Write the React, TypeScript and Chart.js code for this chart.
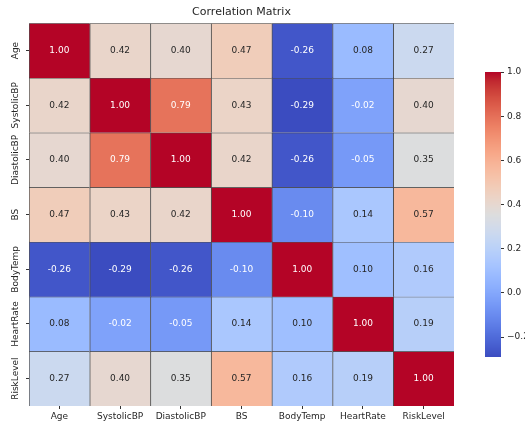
import React, { useEffect, useRef } from 'react';
import { Chart, registerables } from 'chart.js';

Chart.register(...registerables);

// Variables shown on both axes of the correlation matrix
const variables = ['Age', 'SystolicBP', 'DiastolicBP', 'BS', 'BodyTemp', 'HeartRate', 'RiskLevel'];

// Pairwise correlation coefficients, one row per variable
const ageRow = [1.0, 0.42, 0.4, 0.47, -0.26, 0.08, 0.27];
const systolicRow = [0.42, 1.0, 0.79, 0.43, -0.29, -0.02, 0.4];
const diastolicRow = [0.4, 0.79, 1.0, 0.42, -0.26, -0.05, 0.35];
const bsRow = [0.47, 0.43, 0.42, 1.0, -0.1, 0.14, 0.57];
const bodyTempRow = [-0.26, -0.29, -0.26, -0.1, 1.0, 0.1, 0.16];
const heartRateRow = [0.08, -0.02, -0.05, 0.14, 0.1, 1.0, 0.19];
const riskLevelRow = [0.27, 0.4, 0.35, 0.57, 0.16, 0.19, 1.0];

const corrRows = [ageRow, systolicRow, diastolicRow, bsRow, bodyTempRow, heartRateRow, riskLevelRow];

// Colour bar tick values
const colorbarTicks = [-0.2, 0.0, 0.2, 0.4, 0.6, 0.8, 1.0];

const TITLE = 'Correlation Matrix';
const FONT_FAMILY = "'DejaVu Sans', 'Liberation Sans', sans-serif";
const TEXT_COLOR = '#262626';

const allValues = corrRows.flat();
const vmin = Math.min(...allValues);
const vmax = Math.max(...allValues);

// Diverging cool-warm colour map (33 control points)
const COOLWARM: number[][] = [
  [59, 76, 192], [68, 90, 204], [77, 104, 215], [87, 117, 225], [98, 130, 234],
  [108, 142, 241], [119, 154, 247], [130, 165, 251], [141, 176, 254], [152, 185, 255],
  [163, 194, 255], [174, 201, 253], [184, 208, 249], [194, 213, 244], [204, 217, 238],
  [213, 219, 230], [221, 221, 221], [229, 216, 209], [236, 211, 197], [241, 204, 184],
  [245, 196, 172], [247, 187, 160], [247, 177, 148], [247, 166, 135], [244, 154, 123],
  [241, 141, 111], [236, 127, 99], [229, 112, 89], [222, 96, 77], [213, 80, 66],
  [203, 62, 56], [192, 40, 47], [180, 4, 38],
];

function coolwarmRGB(t: number): number[] {
  const c = Math.min(1, Math.max(0, t));
  const pos = c * (COOLWARM.length - 1);
  const i = Math.min(COOLWARM.length - 2, Math.floor(pos));
  const f = pos - i;
  const a = COOLWARM[i];
  const b = COOLWARM[i + 1];
  return [0, 1, 2].map((k) => a[k] + (b[k] - a[k]) * f);
}

function valueColor(v: number): string {
  const [r, g, b] = coolwarmRGB((v - vmin) / (vmax - vmin));
  return `rgb(${Math.round(r)}, ${Math.round(g)}, ${Math.round(b)})`;
}

// Light text on dark cells, dark text on light cells
function annotColor(v: number): string {
  const rgb = coolwarmRGB((v - vmin) / (vmax - vmin)).map((c) => {
    const s = c / 255;
    return s <= 0.03928 ? s / 12.92 : Math.pow((s + 0.055) / 1.055, 2.4);
  });
  const lum = 0.2126 * rgb[0] + 0.7152 * rgb[1] + 0.0722 * rgb[2];
  return lum > 0.408 ? TEXT_COLOR : '#ffffff';
}

// Rotated row labels next to the y-axis tick marks
const rowLabelPlugin = {
  id: 'rowLabels',
  afterDraw(chart: any) {
    const ys = chart.scales.y;
    const ctx = chart.ctx;
    ctx.save();
    ctx.font = `9px ${FONT_FAMILY}`;
    ctx.fillStyle = TEXT_COLOR;
    ctx.textAlign = 'center';
    ctx.textBaseline = 'middle';
    ys.ticks.forEach((_t: any, i: number) => {
      const py = ys.getPixelForTick(i);
      ctx.save();
      ctx.translate(ys.right - 13, py);
      ctx.rotate(-Math.PI / 2);
      ctx.fillText(variables[i], 0, 0);
      ctx.restore();
    });
    ctx.restore();
  },
};

// Coefficient written in the middle of each cell
const cellTextPlugin = {
  id: 'cellText',
  afterDatasetsDraw(chart: any) {
    const ctx = chart.ctx;
    ctx.save();
    ctx.font = `9px ${FONT_FAMILY}`;
    ctx.textAlign = 'center';
    ctx.textBaseline = 'middle';
    corrRows.forEach((row, i) => {
      const meta = chart.getDatasetMeta(i);
      meta.data.forEach((bar: any, j: number) => {
        const { x, y } = bar.getCenterPoint();
        ctx.fillStyle = annotColor(row[j]);
        ctx.fillText(row[j].toFixed(2), x, y);
      });
    });
    ctx.restore();
  },
};

// Continuous gradient filling the colour bar, sampled through its value scale
const gradientPlugin = {
  id: 'colorbarGradient',
  beforeDatasetsDraw(chart: any) {
    const { ctx, chartArea } = chart;
    const ys = chart.scales.y;
    ctx.save();
    for (let py = Math.floor(chartArea.top); py < chartArea.bottom; py++) {
      const v = ys.getValueForPixel(py + 0.5);
      ctx.fillStyle = valueColor(v);
      const top = Math.max(py, chartArea.top);
      const bottom = Math.min(py + 1, chartArea.bottom);
      ctx.fillRect(chartArea.left, top, chartArea.right - chartArea.left, bottom - top);
    }
    ctx.restore();
  },
};

export default function App() {
  const mainRef = useRef<HTMLCanvasElement>(null);
  const barRef = useRef<HTMLCanvasElement>(null);

  useEffect(() => {
    if (!mainRef.current || !barRef.current) return;

    const heatmap = new Chart(mainRef.current, {
      type: 'bar',
      data: {
        labels: variables,
        datasets: corrRows.map((row, i) => ({
          label: variables[i],
          data: row.map(() => [i, i + 1]),
          backgroundColor: row.map(valueColor),
          borderColor: 'rgba(20, 20, 20, 0.75)',
          borderWidth: { top: 1, left: 1, right: 0, bottom: 0 },
          borderSkipped: false,
          barPercentage: 1,
          categoryPercentage: 1,
          grouped: false,
        })),
      },
      options: {
        responsive: false,
        animation: false,
        events: [],
        layout: { padding: { left: 0, right: 71, top: 0, bottom: 0 } },
        plugins: {
          legend: { display: false },
          tooltip: { enabled: false },
          title: {
            display: true,
            fullSize: false,
            text: TITLE,
            color: TEXT_COLOR,
            font: { family: FONT_FAMILY, size: 11, weight: 'normal' },
            padding: { top: 6, bottom: 4 },
          },
        },
        scales: {
          x: {
            type: 'category',
            offset: true,
            grid: { drawOnChartArea: false, drawTicks: true, tickLength: 3, offset: false, color: '#333' },
            border: { display: false },
            ticks: {
              color: TEXT_COLOR,
              font: { family: FONT_FAMILY, size: 9 },
              padding: 2,
              maxRotation: 0,
              minRotation: 0,
              autoSkip: false,
            },
            afterFit: (s: any) => {
              s.height = 15;
            },
          },
          y: {
            type: 'linear',
            min: 0,
            max: variables.length,
            reverse: true,
            afterBuildTicks: (s: any) => {
              s.ticks = variables.map((_v, i) => ({ value: i + 0.5 }));
            },
            ticks: { display: false },
            grid: { drawOnChartArea: false, drawTicks: true, tickLength: 3, color: '#333' },
            border: { display: false },
            afterFit: (s: any) => {
              s.width = 29;
            },
          },
        },
      },
      plugins: [rowLabelPlugin, cellTextPlugin],
    } as any);

    const colorbar = new Chart(barRef.current, {
      type: 'bar',
      data: { labels: [''], datasets: [] },
      options: {
        responsive: false,
        animation: false,
        events: [],
        layout: { padding: { left: 15, right: 0, top: 72, bottom: 64 } },
        plugins: {
          legend: { display: false },
          tooltip: { enabled: false },
          title: { display: false },
        },
        scales: {
          x: { display: false },
          y: {
            type: 'linear',
            position: 'right',
            min: vmin,
            max: vmax,
            afterBuildTicks: (s: any) => {
              s.ticks = colorbarTicks.map((v) => ({ value: v }));
            },
            ticks: {
              color: TEXT_COLOR,
              font: { family: FONT_FAMILY, size: 9 },
              padding: 3,
              callback: (v: any) => {
                const n = Math.abs(Number(v)) < 1e-9 ? 0 : Number(v);
                return n.toFixed(1).replace('-', '\u2212');
              },
            },
            grid: { drawOnChartArea: false, drawTicks: true, tickLength: 3, color: '#333' },
            border: { display: false },
            afterFit: (s: any) => {
              s.width = 24;
            },
          },
        },
      },
      plugins: [gradientPlugin],
    } as any);

    return () => {
      heatmap.destroy();
      colorbar.destroy();
    };
  }, []);

  return (
    <div style={{ position: 'fixed', left: 0, top: 0, width: 525, height: 421, background: '#fff' }}>
      <canvas
        ref={mainRef}
        width={525}
        height={421}
        style={{ position: 'absolute', left: 0, top: 0, width: 525, height: 421 }}
      />
      <canvas
        ref={barRef}
        width={55}
        height={421}
        style={{ position: 'absolute', left: 470, top: 0, width: 55, height: 421 }}
      />
    </div>
  );
}
